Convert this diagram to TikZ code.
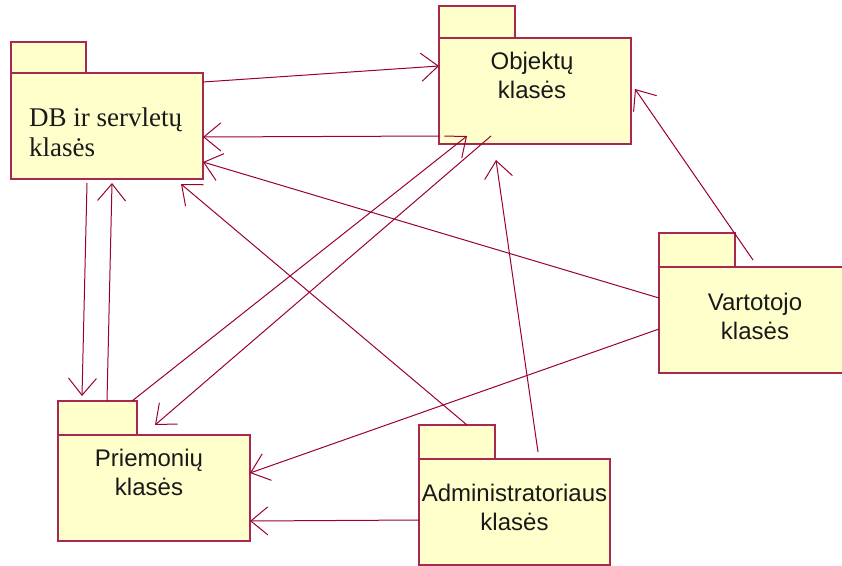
\documentclass[tikz,border=0pt]{standalone}
\usepackage{fontspec}
\setmainfont{Liberation Serif}
\setsansfont{Liberation Sans}
\usetikzlibrary{arrows.meta,calc}
\definecolor{wire}{HTML}{990033}
\definecolor{edge}{HTML}{A82850}
\definecolor{paper}{HTML}{FFFFCC}

\begin{document}
\begin{tikzpicture}[x=1pt,y=-1pt,
  body/.style={draw=edge, fill=paper, line width=1.2pt, anchor=north west,
    minimum width=192pt, minimum height=106pt, inner sep=0pt, outer sep=0pt},
  tab/.style={draw=edge, fill=paper, line width=1.2pt},
  conn/.style={draw=wire, line width=1pt,
    -{Straight Barb[length=17pt,width=28pt,line width=1pt]}},
  sanslbl/.style={font=\sffamily\fontsize{24}{29}\selectfont, align=center,
    anchor=base, inner sep=0pt, text=black!90},
  seriflbl/.style={font=\rmfamily\fontsize{27}{29.5}\selectfont, align=left,
    anchor=base west, inner sep=0pt, text=black!90}]

\useasboundingbox (0,0) rectangle (842,565);
\clip (0,0) rectangle (842,565);

% package tabs
\draw[tab] (11,42) rectangle (86,73);
\draw[tab] (439,6) rectangle (515,38);
\draw[tab] (659,233) rectangle (735,267);
\draw[tab] (58,401) rectangle (137,435);
\draw[tab] (419,425) rectangle (495,459);

% package bodies
\node[body] (db)  at (11,73)   {};
\node[body] (obj) at (439,38)  {};
\node[body] (var) at (659,267) {};
\node[body] (prm) at (58,435)  {};
\node[body, minimum width=191pt] (adm) at (419,459) {};

% package names (node base = baseline of the last line)
\node[seriflbl] (dbt) at ([xshift=18pt,yshift=-83pt]db.north west) {DB ir servletų\\klasės};
\node[sanslbl] (objt) at ([xshift=-3pt,yshift=-60pt]obj.north) {Objektų\\klasės};
\node[sanslbl] (vart) at ([yshift=-72pt]var.north) {Vartotojo\\klasės};
\node[sanslbl] (prmt) at ([xshift=-5pt,yshift=-60pt]prm.north) {Priemonių\\klasės};
\node[sanslbl] (admt) at ([yshift=-71pt]adm.north) {Administratoriaus\\klasės};

% dependencies
\draw[conn] ([yshift=-9pt]db.north east) -- ([yshift=-28pt]obj.north west);
\draw[conn] ([yshift=8pt]obj.south west) -- ([yshift=-64pt]db.north east);
\draw[conn] ([yshift=-31pt]var.north west) -- ([yshift=-89pt]db.north east);
\draw[conn] ([xshift=48pt,yshift=34pt]adm.north west) -- ([xshift=170pt,yshift=-5pt]db.south west);
\draw[conn] ([xshift=76pt,yshift=-4pt]db.south west) -- ([xshift=24pt,yshift=39pt]prm.north west);
\draw[conn] ([xshift=49pt,yshift=34pt]prm.north west) -- ([xshift=101pt,yshift=-4pt]db.south west);
\draw[conn] ([xshift=74pt,yshift=34pt]prm.north west) -- ([xshift=28pt,yshift=8pt]obj.south west);
\draw[conn] ([xshift=52pt,yshift=8pt]obj.south west) -- ([xshift=97pt,yshift=10pt]prm.north west);
\draw[conn] ([yshift=-62pt]var.north west) -- ([yshift=-38pt]prm.north east);
\draw[conn] ([yshift=-61pt]adm.north west) -- ([yshift=-86pt]prm.north east);
\draw[conn] ([xshift=119pt,yshift=7pt]adm.north west) -- ([xshift=57pt,yshift=-16pt]obj.south west);
\draw[conn] ([xshift=94pt,yshift=7pt]var.north west) -- ([xshift=4pt,yshift=-51pt]obj.north east);
\end{tikzpicture}
\end{document}
